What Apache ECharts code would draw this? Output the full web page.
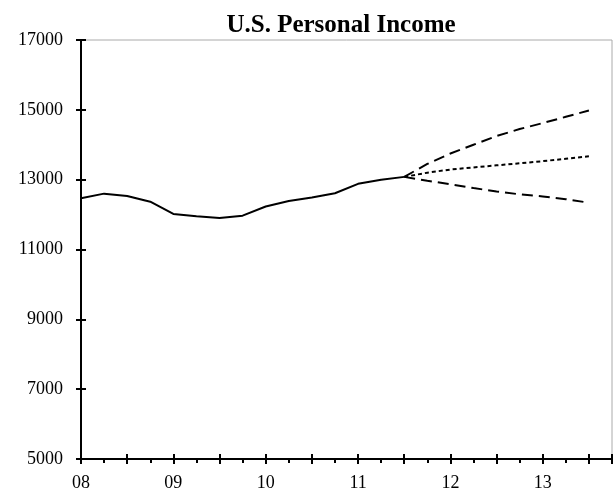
<!DOCTYPE html>
<html>
<head>
<meta charset="utf-8">
<style type="text/css">
html, body {margin: 0; padding: 0; background: #fff;}
#chart {width: 615px; height: 495px;}
</style>
</head>
<body>
<div id="chart"></div>
<script src="https://cdn.jsdelivr.net/npm/echarts@6/dist/echarts.min.js"></script>
<script type="text/javascript">
// quarterly, years as decimals
var actualYears = [2008, 2008.25, 2008.5, 2008.75, 2009, 2009.25, 2009.5, 2009.75, 2010, 2010.25, 2010.5, 2010.75, 2011, 2011.25, 2011.5];
var actualIncome = [12470, 12600, 12530, 12370, 12020, 11955, 11900, 11970, 12230, 12390, 12490, 12610, 12880, 13000, 13080];

var forecastYears = [2011.5, 2011.75, 2012, 2012.25, 2012.5, 2012.75, 2013, 2013.25, 2013.5];
var forecastHigh = [13080, 13450, 13750, 14000, 14250, 14450, 14620, 14800, 14980];
var forecastMid = [13080, 13200, 13290, 13350, 13410, 13470, 13530, 13600, 13670];
var forecastLow = [13080, 12970, 12870, 12760, 12660, 12580, 12520, 12440, 12340];

var yTicks = [5000, 7000, 9000, 11000, 13000, 15000, 17000];

function pairs(xs, ys){
    return xs.map(function(x, i){ return [x, ys[i]]; });
}

var serif = '"Liberation Serif", "DejaVu Serif", serif';
var chart = echarts.init(document.getElementById("chart"));

var xBase = {
    type: 'value',
    min: 2008,
    max: 2013.75,
    interval: 0.5,
    position: 'bottom',
    splitLine: {show: false}
};
var yBase = {
    type: 'value',
    min: yTicks[0],
    max: yTicks[yTicks.length - 1],
    interval: yTicks[1] - yTicks[0],
    position: 'left',
    splitLine: {show: false}
};

var option = {
    animation: false,
    title: {
        text: 'U.S. Personal Income',
        left: 336,
        textAlign: 'center',
        top: 8,
        textStyle: {fontFamily: serif, fontWeight: 'bold', fontSize: 25, color: '#000'}
    },
    grid: {
        left: 81, top: 40, right: 3, bottom: 36,
        show: true, borderColor: '#aaa', borderWidth: 1
    },
    xAxis: [
        Object.assign({}, xBase, {
            axisLine: {lineStyle: {color: '#000', width: 2}},
            axisTick: {inside: false, length: 5, lineStyle: {color: '#000', width: 2}},
            minorTick: {show: true, splitNumber: 2, length: 4, lineStyle: {color: '#000', width: 2}},
            axisLabel: {
                margin: 15,
                fontFamily: serif, fontSize: 18, color: '#000',
                formatter: function(v){
                    if (Math.abs(v - Math.round(v)) > 1e-6) return '';
                    return String(Math.round(v) - 2000).padStart(2, '0');
                }
            }
        }),
        Object.assign({}, xBase, {
            axisLine: {show: false},
            axisTick: {inside: true, length: 5, lineStyle: {color: '#000', width: 2}},
            axisLabel: {show: false}
        })
    ],
    yAxis: [
        Object.assign({}, yBase, {
            axisLine: {lineStyle: {color: '#000', width: 2}},
            axisTick: {inside: false, length: 5, lineStyle: {color: '#000', width: 2}},
            axisLabel: {
                margin: 18, fontFamily: serif, fontSize: 18, color: '#000',
                formatter: function(v){ return String(v); }
            }
        }),
        Object.assign({}, yBase, {
            axisLine: {show: false},
            axisTick: {inside: true, length: 5, lineStyle: {color: '#000', width: 2}},
            axisLabel: {show: false}
        })
    ],
    series: [
        {
            name: 'Actual', type: 'line', showSymbol: false,
            lineStyle: {color: '#000', width: 2},
            data: pairs(actualYears, actualIncome)
        },
        {
            name: 'High', type: 'line', showSymbol: false,
            lineStyle: {color: '#000', width: 2, type: [11, 6]},
            data: pairs(forecastYears, forecastHigh)
        },
        {
            name: 'Mid', type: 'line', showSymbol: false,
            lineStyle: {color: '#000', width: 2, type: [4, 3]},
            data: pairs(forecastYears, forecastMid)
        },
        {
            name: 'Low', type: 'line', showSymbol: false,
            lineStyle: {color: '#000', width: 2, type: [11, 6]},
            data: pairs(forecastYears, forecastLow)
        }
    ]
};
chart.setOption(option);
</script>
</body>
</html>
